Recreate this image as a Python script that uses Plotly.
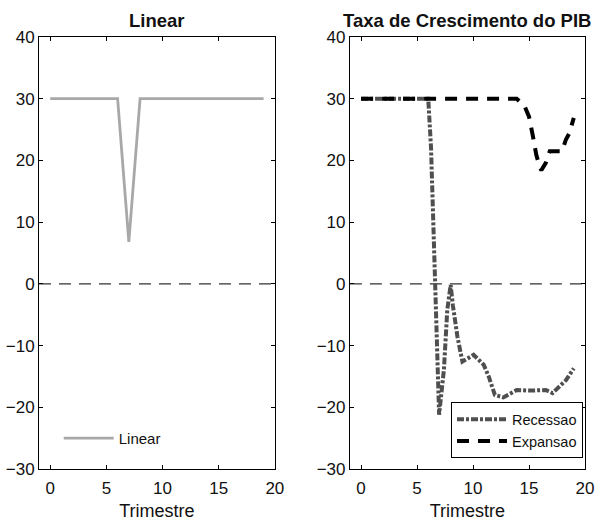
import plotly.graph_objects as go

# ---- data ----
linear_x = list(range(0, 20))
linear_y = [30, 30, 30, 30, 30, 30, 30, 6.8, 30, 30, 30, 30, 30, 30, 30, 30, 30, 30, 30, 30]

rec_x = [0, 1, 2, 3, 4, 5, 6, 6.25, 6.45, 6.6, 6.97, 7.4, 7.7, 8.0, 8.2, 8.6, 8.9, 9.05, 9.8, 10.05,
         10.95, 11.4, 11.95, 12.7, 13.9, 15.05, 16.5, 17.1, 18.3, 19.0]
rec_y = [30, 30, 30, 30, 30, 30, 30, 22, 10, 0, -21.2, -13.9, -4.2, -0.2, -3.5, -8.5, -11.8, -12.6, -11.8, -11.5,
         -13.1, -15, -18, -18.4, -17.2, -17.3, -17.2, -17.7, -15.6, -13.7]

exp_x = [0, 1, 2, 3, 4, 5, 6, 7, 8, 9, 10, 11, 12, 13, 13.9, 14.6, 15.0, 15.36, 15.65, 15.95, 16.1,
         16.5, 16.85, 17.95, 18.3, 18.6, 19.0]
exp_y = [30, 30, 30, 30, 30, 30, 30, 30, 30, 30, 30, 30, 30, 30, 30, 28.8, 27.1, 23.8, 20.9, 19.0, 18.4,
         19.6, 21.5, 21.5, 23.4, 24.4, 26.9]

x_ticks = [0, 5, 10, 15, 20]
y_ticks = [-30, -20, -10, 0, 10, 20, 30, 40]
titles = ["Linear", "Taxa de Crescimento do PIB"]
x_title = "Trimestre"

FONT = "Arial, Liberation Sans, sans-serif"

fig = go.Figure()

fig.add_trace(go.Scatter(x=linear_x, y=linear_y, mode="lines", name="Linear",
                         line=dict(color="#a8a8a8", width=2.8),
                         xaxis="x", yaxis="y", legend="legend"))
fig.add_trace(go.Scatter(x=rec_x, y=rec_y, mode="lines", name="Recessao",
                         line=dict(color="#4f4f4f", width=4, dash="7px,2px,3px,2px"),
                         xaxis="x2", yaxis="y2", legend="legend2"))
fig.add_trace(go.Scatter(x=exp_x, y=exp_y, mode="lines", name="Expansao",
                         line=dict(color="#000000", width=4, dash="12px,9px"),
                         xaxis="x2", yaxis="y2", legend="legend2"))

# zero reference lines
for xr, yr in [("x domain", "y"), ("x2 domain", "y2")]:
    fig.add_shape(type="line", xref=xr, yref=yr, x0=0, x1=1, y0=0, y1=0,
                  line=dict(color="#333333", width=1.2, dash="12px,8px"), layer="below")

axis_common = dict(showline=True, linecolor="black", linewidth=1, mirror="ticks",
                   ticks="inside", ticklen=4, tickcolor="black", showgrid=False, zeroline=False,
                   tickfont=dict(family=FONT, size=17, color="#111111"))

FW = 597
FH = 521
L = 39.3
R = 12
T = 37
B = 52.3
W = FW - L - R
H = FH - T - B


def px(xpix):
    return (xpix - L) / W


def py(ypix):
    return (FH - B - ypix) / H


fig.update_layout(
    width=FW, height=FH,
    margin=dict(l=L, r=R, t=T, b=B, autoexpand=False),
    paper_bgcolor="white", plot_bgcolor="white",
    font=dict(family=FONT, color="#111111"),
    xaxis=dict(domain=[0, px(275)], range=[-1, 20], tickvals=x_ticks, anchor="y",
               ticklabelstandoff=4,
               title=dict(text=x_title, font=dict(family=FONT, size=18), standoff=6), **axis_common),
    yaxis=dict(domain=[0, 1], range=[-30, 40], tickvals=y_ticks, anchor="x", **axis_common),
    xaxis2=dict(domain=[px(350), 1], range=[-1, 20], tickvals=x_ticks, anchor="y2",
                ticklabelstandoff=4,
                title=dict(text=x_title, font=dict(family=FONT, size=18), standoff=6), **axis_common),
    yaxis2=dict(domain=[0, 1], range=[-30, 40], tickvals=y_ticks, anchor="x2", **axis_common),
    showlegend=True,
    legend=dict(x=px(59), y=py(438), xanchor="left", yanchor="middle",
                bgcolor="rgba(0,0,0,0)", borderwidth=0, itemwidth=50,
                font=dict(family=FONT, size=15, color="#111111")),
    legend2=dict(x=px(583), y=py(458), xanchor="right", yanchor="bottom",
                 bgcolor="white", bordercolor="black", borderwidth=1, itemwidth=50,
                 font=dict(family=FONT, size=14.5, color="#111111"), tracegroupgap=0),
    annotations=[
        dict(text="<b>%s</b>" % titles[0], x=px((39.3 + 275) / 2), y=py(21),
             xref="paper", yref="paper", xanchor="center", yanchor="middle", showarrow=False,
             font=dict(family=FONT, size=18.5, color="#111111")),
        dict(text="<b>%s</b>" % titles[1], x=px((350 + 585) / 2), y=py(21),
             xref="paper", yref="paper", xanchor="center", yanchor="middle", showarrow=False,
             font=dict(family=FONT, size=18.5, color="#111111")),
    ],
)

# remove the default 8px page margin so the figure fills the window exactly
fig.write_html("out.html",
               config={"displayModeBar": False},
               post_script="document.body.style.margin='0';document.body.style.overflow='hidden';")
